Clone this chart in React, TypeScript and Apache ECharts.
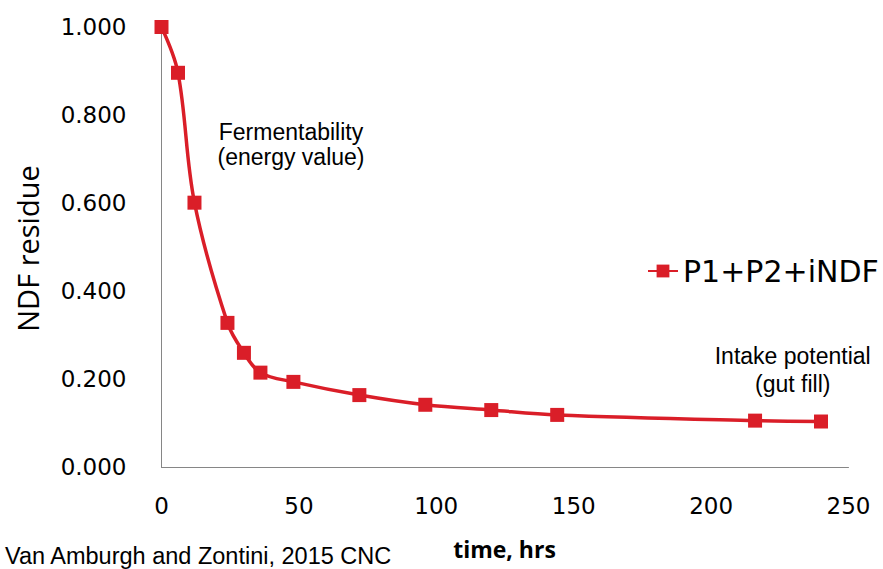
import React, { useEffect, useRef } from "react";
import * as echarts from "echarts";

const timeHours = [0, 6, 12, 24, 30, 36, 48, 72, 96, 120, 144, 216, 240];
const ndfResidue = [1.0, 0.896, 0.601, 0.328, 0.26, 0.215, 0.194, 0.164, 0.142, 0.13, 0.119, 0.106, 0.104];
const seriesName = "P1+P2+iNDF";
const yAxisTitle = "NDF residue";
const xAxisTitle = "time, hrs";
const noteEnergy = ["Fermentability", "(energy value)"];
const noteIntake = ["Intake potential", "(gut fill)"];
const citation = "Van Amburgh and Zontini, 2015 CNC";

const RED = "#DA1E28";
const AXIS = "#868686";

export default function App() {
  const ref = useRef<HTMLDivElement>(null);
  useEffect(() => {
    if (!ref.current) return;
    const chart = echarts.init(ref.current, null, { renderer: "svg" });
    const points = timeHours.map((t, i) => [t, ndfResidue[i]]);
    const noteFont = { fontFamily: "Liberation Sans", fontSize: 23, fill: "#000" };
    chart.setOption({
      animation: false,
      backgroundColor: "#fff",
      grid: { left: 161.5, right: 34.5, top: 27, bottom: 101.7 },
      xAxis: {
        type: "value",
        min: 0,
        max: 250,
        interval: 50,
        axisLine: { show: true, lineStyle: { color: AXIS, width: 1 } },
        axisTick: { show: false },
        splitLine: { show: false },
        axisLabel: { color: "#000", fontFamily: "DejaVu Sans", fontSize: 23, margin: 27 },
      },
      yAxis: {
        type: "value",
        min: 0,
        max: 1,
        interval: 0.2,
        axisLine: { show: true, lineStyle: { color: AXIS, width: 1 } },
        axisTick: { show: false },
        splitLine: { show: false },
        axisLabel: {
          color: "#000",
          fontFamily: "DejaVu Sans",
          fontSize: 23,
          margin: 35,
          formatter: (v: number) => v.toFixed(3),
        },
      },
      legend: {
        show: true,
        left: 647,
        top: 256,
        padding: 0,
        itemWidth: 30,
        itemHeight: 16,
        textStyle: { color: "#000", fontFamily: "DejaVu Sans", fontSize: 30 },
        data: [seriesName],
      },
      series: [
        {
          name: seriesName,
          type: "line",
          data: points,
          smooth: 0.35,
          symbol: "rect",
          symbolSize: 14,
          itemStyle: { color: RED },
          lineStyle: { color: RED, width: 3.5 },
        },
      ],
      graphic: [
        {
          type: "text",
          x: 27,
          y: 248.5,
          rotation: Math.PI / 2,
          style: {
            text: yAxisTitle,
            fontFamily: "Open Sans",
            fontSize: 29,
            fill: "#000",
            align: "center",
            verticalAlign: "middle",
          },
        },
        {
          type: "text",
          x: 504.5,
          y: 548.5,
          style: {
            text: xAxisTitle,
            fontFamily: "Open Sans",
            fontWeight: "bold",
            fontSize: 23,
            fill: "#000",
            align: "center",
            verticalAlign: "middle",
          },
        },
        {
          type: "text",
          x: 291,
          y: 131.5,
          style: { ...noteFont, text: noteEnergy[0], align: "center", verticalAlign: "middle" },
        },
        {
          type: "text",
          x: 291,
          y: 157,
          style: { ...noteFont, text: noteEnergy[1], align: "center", verticalAlign: "middle" },
        },
        {
          type: "text",
          x: 792.7,
          y: 356,
          style: { ...noteFont, text: noteIntake[0], align: "center", verticalAlign: "middle" },
        },
        {
          type: "text",
          x: 792.7,
          y: 384,
          style: { ...noteFont, text: noteIntake[1], align: "center", verticalAlign: "middle" },
        },
        {
          type: "text",
          x: 5,
          y: 556,
          style: {
            text: citation,
            fontFamily: "Liberation Sans",
            fontSize: 23.5,
            fill: "#000",
            align: "left",
            verticalAlign: "middle",
          },
        },
      ],
    });
    return () => chart.dispose();
  }, []);
  return (
    <div
      ref={ref}
      style={{ position: "fixed", left: 0, top: 0, width: 883, height: 569, background: "#fff" }}
    />
  );
}
